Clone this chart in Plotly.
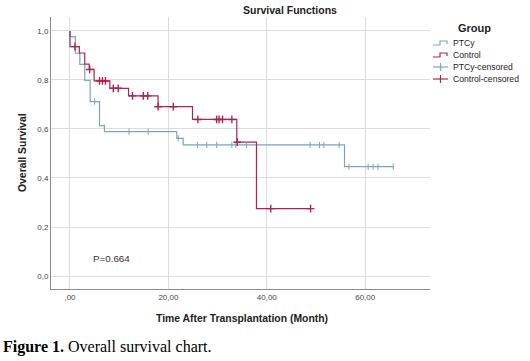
import plotly.graph_objects as go

# ---------------- data ----------------
ptcy_step_x = [0, 0, 1.1, 2.0, 3.0, 4.1, 6.0, 7.0, 21.7, 23.0, 55.8, 65.7]
ptcy_step_y = [1.0, 0.977, 0.909, 0.864, 0.798, 0.712, 0.614, 0.589, 0.562, 0.535, 0.446, 0.446]

control_step_x = [0, 0, 1.9, 3.0, 3.9, 4.9, 8.1, 11.9, 17.9, 24.9, 33.9, 37.9, 49.0]
control_step_y = [1.0, 0.936, 0.910, 0.865, 0.843, 0.796, 0.766, 0.735, 0.691, 0.639, 0.546, 0.275, 0.275]

ptcy_cens_x = [5.0, 12.0, 15.9, 22.0, 25.9, 27.8, 29.8, 32.9, 33.7, 35.9, 48.8, 50.7, 51.6, 54.7,
               56.7, 60.6, 61.6, 62.6, 65.7]
ptcy_cens_y = [0.712, 0.589, 0.589, 0.562, 0.535, 0.535, 0.535, 0.535, 0.535, 0.535, 0.535, 0.535,
               0.535, 0.535, 0.446, 0.446, 0.446, 0.446, 0.446]

control_cens_x = [1.0, 4.0, 6.0, 6.6, 7.2, 8.8, 9.8, 12.7, 14.9, 15.8, 17.9, 21.0, 26.0, 29.8, 30.3,
                  31.0, 32.9, 34.0, 40.8, 48.9]
control_cens_y = [0.936, 0.843, 0.796, 0.796, 0.796, 0.766, 0.766, 0.735, 0.735, 0.735, 0.691, 0.691,
                  0.639, 0.639, 0.639, 0.639, 0.639, 0.546, 0.275, 0.275]

x_tickvals = [0, 20, 40, 60]
x_ticktext = [",00", "20,00", "40,00", "60,00"]
y_tickvals = [0, 0.2, 0.4, 0.6, 0.8, 1.0]
y_ticktext = ["0,0", "0,2", "0,4", "0,6", "0,8", "1,0"]

legend_labels = ["PTCy", "Control", "PTCy-censored", "Control-censored"]
p_text = "P=0.664"

# ---------------- style ----------------
BLUE = "#7ba4c2"
RED = "#ad2350"
FONT = "Arial, Liberation Sans, sans-serif"
W, H = 530, 361
L, R, T, B = 51, 100, 17, 72
PW, PH = W - L - R, H - T - B


def px(x):
    return (x - L) / PW


def py(y):
    return (H - B - y) / PH


fig = go.Figure()
fig.add_trace(go.Scatter(x=ptcy_step_x, y=ptcy_step_y, mode="lines",
                         line=dict(color=BLUE, width=1.2, shape="hv"), hoverinfo="skip"))
fig.add_trace(go.Scatter(x=control_step_x, y=control_step_y, mode="lines",
                         line=dict(color=RED, width=1.2, shape="hv"), hoverinfo="skip"))
fig.add_trace(go.Scatter(x=ptcy_cens_x, y=ptcy_cens_y, mode="markers",
                         marker=dict(symbol="line-ns", size=4.5, line=dict(color=BLUE, width=1))))
fig.add_trace(go.Scatter(x=control_cens_x, y=control_cens_y, mode="markers",
                         marker=dict(symbol="cross-thin", size=5.5, line=dict(color=RED, width=1.4))))

shapes = []
annotations = []

# manual legend
leg_y = [43, 55, 67, 79]
colors = [BLUE, RED, BLUE, RED]
for i, (lab, c, yy) in enumerate(zip(legend_labels, colors, leg_y)):
    if i < 2:
        path = (f"M {px(433)},{py(yy + 2)} L {px(440)},{py(yy + 2)} L {px(440)},{py(yy - 2)} "
                f"L {px(447)},{py(yy - 2)} L {px(447)},{py(yy + 1)}")
        shapes.append(dict(type="path", path=path, xref="paper", yref="paper",
                           line=dict(color=c, width=1.2)))
    else:
        shapes.append(dict(type="line", xref="paper", yref="paper", x0=px(433), x1=px(448),
                           y0=py(yy), y1=py(yy), line=dict(color=c, width=1.2)))
        shapes.append(dict(type="line", xref="paper", yref="paper", x0=px(440.5), x1=px(440.5),
                           y0=py(yy - 4), y1=py(yy + 4), line=dict(color=c, width=1.2)))
    annotations.append(dict(text=lab, xref="paper", yref="paper", x=px(451), y=py(yy),
                            xanchor="left", yanchor="middle", showarrow=False,
                            font=dict(family=FONT, size=8.6, color="#222")))

annotations.append(dict(text="<b>Group</b>", xref="paper", yref="paper", x=px(474), y=py(28),
                        xanchor="center", yanchor="middle", showarrow=False,
                        font=dict(family=FONT, size=11, color="#222")))
annotations.append(dict(text="<b>Survival Functions</b>", xref="paper", yref="paper",
                        x=px(289.5), y=py(10), xanchor="center", yanchor="middle", showarrow=False,
                        font=dict(family=FONT, size=10.5, color="#222")))
annotations.append(dict(text=p_text, x=8.5, y=0.073, xref="x", yref="y", xanchor="center",
                        yanchor="middle", showarrow=False,
                        font=dict(family=FONT, size=9.8, color="#333")))
annotations.append(dict(text="<b>Figure 1.</b> Overall survival chart.", xref="paper", yref="paper",
                        x=px(1), y=py(347), xanchor="left", yanchor="middle", showarrow=False,
                        font=dict(family="Liberation Serif, Times New Roman, serif", size=16,
                                  color="#000")))
annotations.append(dict(text="<b>Time After Transplantation (Month)</b>", xref="paper",
                        yref="paper", x=px(241.5), y=py(318), xanchor="center", yanchor="middle",
                        showarrow=False, font=dict(family=FONT, size=10.4, color="#222")))
annotations.append(dict(text="<b>Overall Survival</b>", xref="paper", yref="paper",
                        x=px(22), y=py(153), xanchor="center", yanchor="middle", textangle=-90,
                        showarrow=False, font=dict(family=FONT, size=10.4, color="#222")))

fig.update_layout(
    width=W, height=H,
    margin=dict(l=L, r=R, t=T, b=B, pad=0, autoexpand=False),
    paper_bgcolor="white", plot_bgcolor="white",
    showlegend=False, hovermode=False,
    shapes=shapes, annotations=annotations,
    font=dict(family=FONT, color="#333"),
    xaxis=dict(range=[-3.86, 73.17], tickvals=x_tickvals, ticktext=x_ticktext,
               showgrid=True, gridcolor="#dcdcdc", gridwidth=1, zeroline=False,
               showline=True, linecolor="#8c8c8c", linewidth=1, ticks="", automargin=False,
               tickfont=dict(family=FONT, size=8, color="#444")),
    yaxis=dict(range=[-0.053, 1.057], tickvals=y_tickvals, ticktext=y_ticktext,
               showgrid=True, gridcolor="#dcdcdc", gridwidth=1, zeroline=False,
               showline=True, linecolor="#8c8c8c", linewidth=1, ticks="", automargin=False,
               tickfont=dict(family=FONT, size=8, color="#444")),
)

fig.write_html("out.html", config={"displayModeBar": False},
               post_script="document.body.style.margin='0';document.body.style.overflow='hidden';")
